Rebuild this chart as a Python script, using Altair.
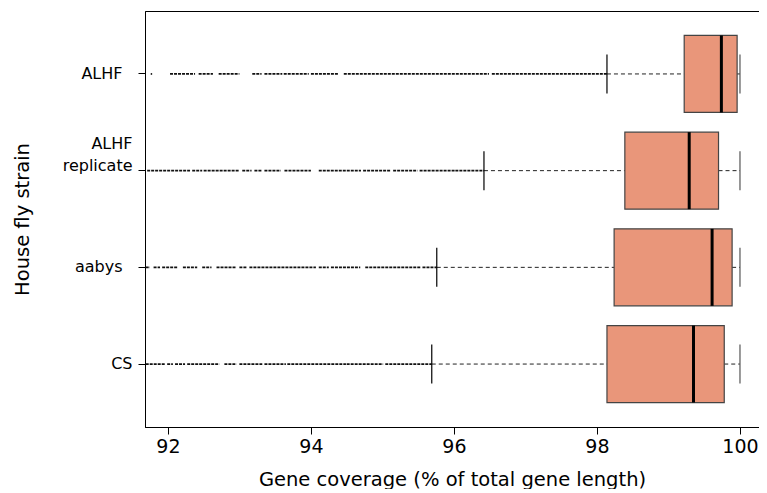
import altair as alt
import pandas as pd

# ---- data ----
strains = ["ALHF", "ALHF replicate", "aabys", "CS"]
q1 = [99.22, 98.39, 98.24, 98.14]
median = [99.74, 99.29, 99.61, 99.35]
q3 = [99.96, 99.70, 99.89, 99.78]
whisker_low = [98.14, 96.42, 95.76, 95.69]
whisker_high = [100.0, 100.0, 100.0, 100.0]

# outliers: dense runs of points (start, end) per strain
out_alhf = [(91.76, 91.78), (92.03, 92.38), (92.43, 92.63), (92.71, 93.00),
            (93.18, 93.31), (93.35, 93.60), (93.62, 93.97), (94.00, 94.39),
            (94.46, 96.49), (96.53, 98.14)]
out_alhf_rep = [(91.71, 92.31), (92.34, 92.48), (92.50, 93.00), (93.04, 93.17),
                (93.21, 93.31), (93.35, 93.58), (93.63, 94.00), (94.11, 94.70),
                (94.73, 95.12), (95.15, 95.49), (95.52, 96.01), (96.02, 96.42)]
out_aabys = [(91.69, 91.75), (91.80, 91.89), (91.92, 92.13), (92.21, 92.41),
             (92.48, 92.61), (92.68, 92.96), (93.00, 93.10), (93.14, 94.07),
             (94.11, 94.25), (94.28, 94.69), (94.76, 95.54), (95.56, 95.76)]
out_cs = [(91.69, 91.96), (91.99, 92.07), (92.10, 92.24), (92.27, 92.72),
          (92.79, 92.96), (93.00, 93.32), (93.35, 93.65), (93.67, 94.49),
          (94.50, 95.01), (95.04, 95.69)]

x_ticks = [92, 94, 96, 98, 100]
x_domain = [91.68, 100.266]

boxes = pd.DataFrame({"strain": strains, "q1": q1, "median": median, "q3": q3,
                      "lo": whisker_low, "hi": whisker_high})
rows = []
for s, runs in zip(strains, [out_alhf, out_alhf_rep, out_aabys, out_cs]):
    for a, b in runs:
        rows.append({"strain": s, "start": a, "end": b})
outliers = pd.DataFrame(rows)

FONT = "DejaVu Sans"
label_expr = (
    "datum.value === 'ALHF replicate' ? ['ALHF', 'replicate'] : datum.value"
)

y_enc = alt.Y(
    "strain:N",
    scale=alt.Scale(domain=strains, paddingInner=0, paddingOuter=0.151),
    axis=alt.Axis(
        title="House fly strain",
        labelExpr=label_expr,
        labelFont=FONT, labelFontSize=16, labelColor="black",
        labelPadding={"condition": {"test": "datum.value === 'ALHF' || datum.value === 'aabys'",
                                    "value": 16},
                      "value": 6},
        labelLineHeight=22,
        labelOffset={"condition": {"test": "datum.value === 'ALHF replicate'", "value": -27}, "value": 0},
        tickSize=7, tickColor="black", domainColor="black",
        titleFont=FONT, titleFontSize=19.5, titleFontWeight="normal",
        titleColor="black", titlePadding=30,
    ),
)

x_scale = alt.Scale(domain=x_domain, nice=False, zero=False)
x_axis = alt.Axis(
    values=x_ticks, format="d", title="Gene coverage (% of total gene length)",
    labelFont=FONT, labelFontSize=19, labelColor="black", labelPadding=3,
    tickSize=7, tickColor="black", domainColor="black",
    titleFont=FONT, titleFontSize=19.5, titleFontWeight="normal",
    titleColor="black", titlePadding=14,
)

out_layer = alt.Chart(outliers).mark_rule(
    color="#111", strokeWidth=1.7, strokeDash=[3, 1]
).encode(
    x=alt.X("start:Q", scale=x_scale, axis=x_axis), x2="end:Q", y=y_enc
)

whisk_lo = alt.Chart(boxes).mark_rule(color="#222", strokeWidth=1, strokeDash=[4, 3]).encode(
    x=alt.X("lo:Q", scale=x_scale, axis=x_axis), x2="q1:Q", y=y_enc
)
whisk_hi = alt.Chart(boxes).mark_rule(color="#222", strokeWidth=1, strokeDash=[4, 3]).encode(
    x=alt.X("q3:Q", scale=x_scale, axis=x_axis), x2="hi:Q", y=y_enc
)
cap_lo = alt.Chart(boxes).mark_tick(color="black", thickness=1.2, size=39, opacity=1).encode(
    x=alt.X("lo:Q", scale=x_scale, axis=x_axis), y=y_enc
)
cap_hi = alt.Chart(boxes).mark_tick(color="#555", thickness=1.2, size=39, opacity=1).encode(
    x=alt.X("hi:Q", scale=x_scale, axis=x_axis), y=y_enc
)
box = alt.Chart(boxes).mark_bar(
    size=77, color="#E9967A", stroke="#444", strokeWidth=1.2, opacity=1
).encode(x=alt.X("q1:Q", scale=x_scale, axis=x_axis), x2="q3:Q", y=y_enc)
med = alt.Chart(boxes).mark_tick(color="black", thickness=3, size=77, opacity=1).encode(
    x=alt.X("median:Q", scale=x_scale, axis=x_axis), y=y_enc
)

chart = alt.layer(out_layer, whisk_lo, whisk_hi, cap_lo, cap_hi, box, med).properties(
    width=751, height=416,
    padding={"left": 4, "top": 3, "right": 0, "bottom": 0},
    autosize=alt.AutoSizeParams(type="fit-x", contains="padding"),
).configure_view(
    stroke="black", strokeWidth=1
).configure_axis(grid=False)

chart.save("out.html", embed_options={"renderer": "svg", "actions": False})
